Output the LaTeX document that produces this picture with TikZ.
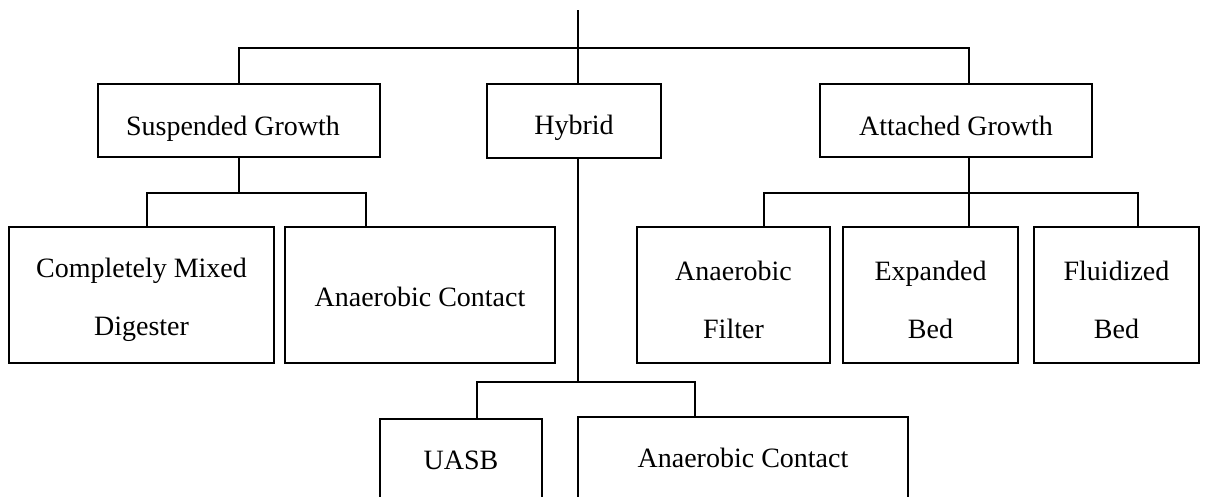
\documentclass[tikz,border=0pt]{standalone}
\usepackage{fontspec}
\setmainfont{Liberation Serif}
\newcommand{\tallstrut}{\rule{0pt}{29pt}}
\begin{document}
\begin{tikzpicture}[x=1pt,y=-1pt,line width=1.5pt,
  box/.style={draw,rectangle,inner sep=0pt,font=\fontsize{28}{58}\selectfont,align=center},
  conn/.style={draw,line width=1.5pt}]
\clip (0,0) rectangle (1205,496);
% top level
\node[box,minimum width=282pt,minimum height=73pt,text height=29pt,text depth=0pt] (susp) at (239,120.5) {Suspended Growth\hspace*{12pt}};
\node[box,minimum width=174pt,minimum height=74pt,text height=26pt,text depth=0pt] (hyb) at (574,121) {Hybrid};
\node[box,minimum width=272pt,minimum height=73pt,text height=29pt,text depth=0pt] (att) at (956,120.5) {Attached Growth};
% second level
\node[box,minimum width=265pt,minimum height=136pt] (cmd) at (141.5,295) {\tallstrut Completely Mixed\\Digester};
\node[box,minimum width=270pt,minimum height=136pt,text height=22pt,text depth=0pt] (ac1) at (420,295) {Anaerobic Contact};
\node[box,minimum width=193pt,minimum height=136pt] (af) at (733.5,295) {\tallstrut Anaerobic\\Filter};
\node[box,minimum width=175pt,minimum height=136pt] (eb) at (930.5,295) {\tallstrut Expanded\\Bed};
\node[box,minimum width=165pt,minimum height=136pt] (fb) at (1116.5,295) {\tallstrut Fluidized\\Bed};
% bottom level
\node[box,minimum width=162pt,minimum height=111pt,text height=0pt,text depth=11pt] (uasb) at (461,474.5) {UASB};
\node[box,minimum width=330pt,minimum height=113pt,text height=0pt,text depth=13pt] (ac2) at (743,473.5) {Anaerobic Contact};
% junction coordinates
\coordinate (root) at (578,10);
\coordinate (tL) at (239,48);
\coordinate (tR) at (969,48);
\coordinate (sJ) at (239,193);
\coordinate (sL) at (147,193);
\coordinate (sR) at (366,193);
\coordinate (aL) at (764,193);
\coordinate (aR) at (1138,193);
\coordinate (hJ) at (578,382);
\coordinate (hL) at (477,382);
\coordinate (hR) at (695,382);
% connectors
\draw[conn] (root) -- (hyb.north -| root);
\draw[conn] (susp.north) -- (tL) -- (tR) -- (att.north -| tR);
\draw[conn] (susp.south) -- (sJ);
\draw[conn] (cmd.north -| sL) -- (sL) -- (sR) -- (ac1.north -| sR);
\draw[conn] (att.south -| tR) -- (eb.north -| tR);
\draw[conn] (af.north -| aL) -- (aL) -- (aR) -- (fb.north -| aR);
\draw[conn] (hyb.south -| root) -- (hJ);
\draw[conn] (uasb.north -| hL) -- (hL) -- (hR) -- (ac2.north -| hR);
\end{tikzpicture}
\end{document}
